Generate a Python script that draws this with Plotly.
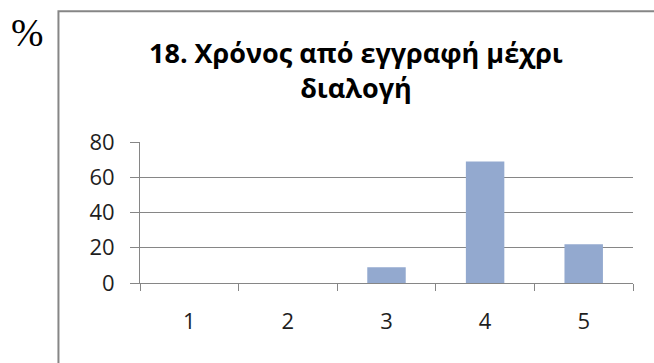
import plotly.graph_objects as go

# Response options (x) and share of respondents in percent (y)
categories = ["1", "2", "3", "4", "5"]
percentages = [0, 0, 9, 69, 22]
y_ticks = [0, 20, 40, 60, 80]

title_lines = ["18. Χρόνος από εγγραφή μέχρι", "διαλογή"]
unit_label = "%"

W, H = 654, 363
# plot-area pixel box
PL, PR, PT, PB = 140, 632.7, 142.3, 282.7

axis_grey = "#868686"
bar_blue = "#93A9CF"
text_col = "#1e1e1e"
font_family = "Open Sans, Noto Sans, DejaVu Sans, sans-serif"


def px_x(p):
    return (p - PL) / (PR - PL)


def px_y(p):
    return (PB - p) / (PB - PT)


fig = go.Figure(
    go.Bar(
        x=categories,
        y=percentages,
        marker=dict(color=bar_blue, line=dict(width=0)),
        hoverinfo="x+y",
    )
)

fig.update_layout(
    width=W,
    height=H,
    margin=dict(l=PL, r=W - PR, t=PT, b=H - PB, pad=0),
    paper_bgcolor="white",
    plot_bgcolor="white",
    showlegend=False,
    bargap=0.61,
    font=dict(family=font_family, color=text_col, size=22),
)

fig.update_xaxes(
    type="category",
    tickson="boundaries",
    ticks="outside",
    ticklen=7,
    tickcolor=axis_grey,
    tickwidth=1,
    showline=True,
    linecolor=axis_grey,
    linewidth=1,
    showgrid=False,
    ticklabelstandoff=19,
    tickfont=dict(size=22, color=text_col),
)

fig.update_yaxes(
    range=[0, 80],
    tickvals=y_ticks,
    ticks="outside",
    ticklen=9,
    tickcolor=axis_grey,
    tickwidth=1,
    showline=True,
    linecolor=axis_grey,
    linewidth=1,
    showgrid=True,
    gridcolor=axis_grey,
    gridwidth=1,
    zeroline=True,
    zerolinecolor=axis_grey,
    zerolinewidth=1,
    ticklabelstandoff=11,
    tickfont=dict(size=22, color=text_col),
)

# chart frame (runs off the right and bottom edges)
fig.add_shape(
    type="rect",
    xref="paper",
    yref="paper",
    x0=px_x(58.5),
    x1=px_x(W + 20),
    y0=px_y(H + 20),
    y1=px_y(12),
    line=dict(color=axis_grey, width=2),
    fillcolor="rgba(0,0,0,0)",
    layer="below",
)

fig.add_annotation(
    text="<br>".join(title_lines),
    xref="paper",
    yref="paper",
    x=px_x(356),
    y=px_y(33),
    xanchor="center",
    yanchor="top",
    showarrow=False,
    align="center",
    font=dict(family=font_family, size=27, color="black", weight="bold"),
)

fig.add_annotation(
    text=unit_label,
    xref="paper",
    yref="paper",
    x=px_x(28),
    y=px_y(33),
    xanchor="center",
    yanchor="middle",
    showarrow=False,
    font=dict(family="Liberation Serif, Times New Roman, serif", size=39, color="black"),
)

fig.write_html("out.html")
